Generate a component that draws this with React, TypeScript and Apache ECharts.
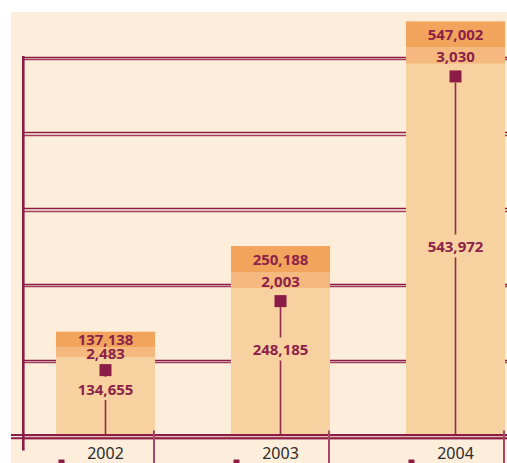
import React, { useEffect, useRef } from "react";
import * as echarts from "echarts";

const years = ["2002", "2003", "2004"];
const totals = [137138, 250188, 547002];
const secondary = [2483, 2003, 3030];
const primary = [134655, 248185, 543972];
const yMin = 0;
const yMax = 500000;
const yInterval = 100000;

const BG = "#FDEEDB";
const BAR = "#F7D19F";
const MIDC = "#F5B97F";
const TOPC = "#F2A45C";
const DARK = "#8A1C45";
const DARK2 = "#A03D62";
const LINE = "#96294F";
const TICK = "#A8466A";
const TXT = "#8C2248";
const FONT = '"Noto Sans", "DejaVu Sans", sans-serif';

const fmt = (v: number) => v.toLocaleString("en-US");

export default function App() {
  const ref = useRef<HTMLDivElement>(null);
  useEffect(() => {
    if (!ref.current) return;
    const chart = echarts.init(ref.current, undefined, { renderer: "svg" });
    const data = years.map((_, i) => [i, totals[i], secondary[i], primary[i]]);
    const valueAxis = (gi: number, color: string, show: boolean) => ({
      type: "value",
      gridIndex: gi,
      min: yMin,
      max: yMax,
      interval: yInterval,
      show,
      axisLine: { show: false },
      axisTick: { show: false },
      axisLabel: { show: false },
      splitLine: { show: true, lineStyle: { color, width: 1.3 } },
    });
    chart.setOption({
      animation: false,
      backgroundColor: BG,
      grid: [
        { left: 7, right: -36, top: 45, bottom: 27.5, outerBoundsMode: "none", containLabel: false },
        { left: 12, right: 0, top: 45, bottom: 27.5, outerBoundsMode: "none" },
        { left: 12, right: 0, top: 47.5, bottom: 25, outerBoundsMode: "none" },
      ],
      xAxis: [
        {
          type: "category",
          gridIndex: 0,
          data: years,
          axisLine: { show: false },
          axisTick: { show: false },
          axisLabel: { color: "#2b2b2b", fontSize: 16, fontFamily: FONT, margin: 9 },
        },
        { type: "category", gridIndex: 1, data: years, show: false },
        { type: "category", gridIndex: 2, data: years, show: false },
      ],
      yAxis: [
        { type: "value", gridIndex: 0, min: yMin, max: yMax, show: false },
        valueAxis(1, DARK, true),
        valueAxis(2, DARK2, true),
      ],
      series: [
        {
          type: "custom",
          xAxisIndex: 0,
          yAxisIndex: 0,
          z: 2,
          data,
          renderItem: (params: any, api: any) => {
            const idx = api.value(0);
            const total = api.value(1);
            const sec = api.value(2);
            const prim = api.value(3);
            const top = api.coord([idx, total]);
            const base = api.coord([idx, 0]);
            const band = api.size([1, 0])[0];
            const w = band * 0.566;
            const x0 = top[0] - w / 2;
            const barH = base[1] - top[1];
            const topH = Math.min(26, barH * 0.15);
            const midH = Math.min(16, barH * 0.095);
            const midBottom = top[1] + topH + midH;
            const ms = 12;
            const mTop = midBottom + 7;
            const lp = api.coord([idx, prim * 0.46]);
            const font = `bold 15px ${FONT}`;
            return {
              type: "group",
              children: [
                { type: "rect", shape: { x: x0, y: top[1], width: w, height: barH }, style: { fill: BAR } },
                { type: "rect", shape: { x: x0, y: top[1], width: w, height: topH }, style: { fill: TOPC } },
                { type: "rect", shape: { x: x0, y: top[1] + topH, width: w, height: midH }, style: { fill: MIDC } },
                {
                  type: "line",
                  shape: { x1: top[0], y1: mTop + ms, x2: top[0], y2: base[1] },
                  style: { stroke: LINE, lineWidth: 1.6 },
                },
                { type: "rect", shape: { x: top[0] - ms / 2, y: mTop, width: ms, height: ms }, style: { fill: DARK } },
                {
                  type: "text",
                  x: top[0],
                  y: top[1] + topH / 2,
                  style: { text: fmt(total), fill: TXT, font, align: "center", verticalAlign: "middle" },
                },
                {
                  type: "text",
                  x: top[0],
                  y: top[1] + topH + midH / 2 + 0.5,
                  style: { text: fmt(sec), fill: TXT, font, align: "center", verticalAlign: "middle" },
                },
                {
                  type: "text",
                  x: top[0],
                  y: lp[1],
                  style: {
                    text: fmt(prim),
                    fill: TXT,
                    font,
                    align: "center",
                    verticalAlign: "middle",
                    backgroundColor: BAR,
                    padding: [4, 1],
                  },
                },
              ],
            };
          },
        },
        {
          type: "custom",
          xAxisIndex: 0,
          yAxisIndex: 0,
          z: 10,
          data,
          renderItem: (params: any, api: any) => {
            const idx = api.value(0);
            const base = api.coord([idx, 0]);
            const band = api.size([1, 0])[0];
            const w = band * 0.566;
            const x0 = base[0] - w / 2;
            const xr = base[0] + w / 2 - 1;
            return {
              type: "group",
              children: [
                {
                  type: "line",
                  shape: { x1: xr, y1: base[1] - 5, x2: xr, y2: base[1] + 40 },
                  style: { stroke: TICK, lineWidth: 2 },
                },
                { type: "rect", shape: { x: x0 + 2.5, y: base[1] + 24, width: 6, height: 6 }, style: { fill: DARK } },
              ],
            };
          },
        },
      ],
    });
    const y0 = chart.convertToPixel({ yAxisIndex: 1 }, yMin) as number;
    const yTop = chart.convertToPixel({ yAxisIndex: 1 }, yMax) as number;
    const W = chart.getWidth();
    chart.setOption({
      graphic: [
        {
          type: "line",
          z: 5,
          shape: { x1: 12.3, y1: yTop - 1, x2: 12.3, y2: y0 + 15 },
          style: { stroke: DARK, lineWidth: 2.6 },
        },
        {
          type: "line",
          z: 5,
          shape: { x1: 0, y1: y0 - 0.5, x2: W, y2: y0 - 0.5 },
          style: { stroke: DARK, lineWidth: 2 },
        },
        {
          type: "line",
          z: 5,
          shape: { x1: 0, y1: y0 + 2.7, x2: W, y2: y0 + 2.7 },
          style: { stroke: DARK, lineWidth: 2 },
        },
      ],
    });
    return () => chart.dispose();
  }, []);
  return (
    <div
      ref={ref}
      style={{ position: "absolute", left: 11, top: 12, width: 496, height: 451 }}
    />
  );
}
